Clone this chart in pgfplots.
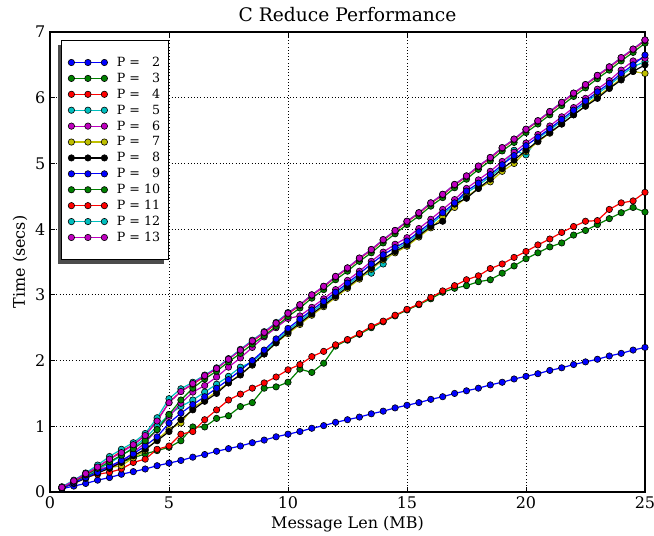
\documentclass[border=0pt]{standalone}
\usepackage{fontspec}
\setmainfont{DejaVu Serif}
\usepackage{pgfplots}
\usepackage{pgfplotstable}
\pgfplotsset{compat=1.18}
\usetikzlibrary{shadows}
\makeatletter
\tikzset{no preactions/.code={\let\tikz@preactions\pgfutil@empty}}
\makeatother

\definecolor{mb}{rgb}{0,0,1}
\definecolor{mg}{rgb}{0,0.5,0}
\definecolor{mr}{rgb}{1,0,0}
\definecolor{mc}{rgb}{0,0.75,0.75}
\definecolor{mm}{rgb}{0.75,0,0.75}
\definecolor{my}{rgb}{0.75,0.75,0}
\definecolor{mk}{rgb}{0,0,0}

\pgfplotstableread{
x    p2   p3   p4   p5   p6   p7   p8   p9   p10  p11  p12  p13
0.5  0.05 0.07 0.07 0.07 0.07 0.06 0.06 0.06 0.07 0.07 0.08 0.07
1.0  0.09 0.16 0.16 0.16 0.16 0.14 0.13 0.14 0.16 0.17 0.18 0.17
1.5  0.13 0.24 0.22 0.25 0.26 0.21 0.21 0.22 0.26 0.27 0.29 0.28
2.0  0.18 0.32 0.27 0.34 0.35 0.29 0.29 0.30 0.36 0.38 0.41 0.38
2.5  0.22 0.38 0.30 0.44 0.38 0.37 0.36 0.39 0.46 0.50 0.54 0.50
3.0  0.27 0.45 0.35 0.55 0.46 0.40 0.45 0.48 0.56 0.62 0.65 0.60
3.5  0.31 0.52 0.45 0.68 0.60 0.52 0.55 0.58 0.66 0.72 0.75 0.72
4.0  0.35 0.58 0.50 0.82 0.75 0.63 0.65 0.70 0.78 0.86 0.89 0.86
4.5  0.40 0.63 0.65 1.00 0.95 0.80 0.78 0.84 0.95 1.09 1.13 1.08
5.0  0.44 0.68 0.70 1.18 1.15 0.95 0.92 1.05 1.18 1.36 1.42 1.36
5.5  0.48 0.78 0.88 1.30 1.35 1.05 1.10 1.20 1.40 1.53 1.57 1.53
6.0  0.53 0.99 0.92 1.40 1.52 1.28 1.25 1.33 1.58 1.64 1.67 1.65
6.5  0.57 0.99 1.10 1.52 1.62 1.40 1.38 1.45 1.72 1.76 1.78 1.77
7.0  0.62 1.12 1.25 1.64 1.75 1.53 1.50 1.58 1.84 1.88 1.89 1.88
7.5  0.66 1.16 1.40 1.76 1.90 1.66 1.66 1.71 1.98 2.02 2.03 2.02
8.0  0.70 1.30 1.49 1.90 2.04 1.79 1.78 1.85 2.11 2.16 2.17 2.16
8.5  0.75 1.36 1.58 1.98 2.20 1.93 1.94 2.00 2.25 2.29 2.31 2.30
9.0  0.79 1.58 1.66 2.13 2.36 2.10 2.10 2.16 2.38 2.42 2.44 2.43
9.5  0.84 1.60 1.75 2.30 2.50 2.27 2.27 2.33 2.52 2.56 2.58 2.57
10.0 0.88 1.67 1.86 2.46 2.64 2.41 2.43 2.49 2.67 2.71 2.73 2.72
10.5 0.92 1.87 1.94 2.60 2.68 2.55 2.57 2.63 2.80 2.84 2.85 2.85
11.0 0.97 1.82 2.06 2.74 2.81 2.69 2.71 2.77 2.95 2.99 3.00 3.00
11.5 1.01 1.96 2.14 2.87 2.94 2.82 2.84 2.90 3.08 3.12 3.13 3.13
12.0 1.06 2.22 2.24 3.01 3.08 2.96 2.98 3.04 3.23 3.27 3.28 3.28
12.5 1.10 2.31 2.32 3.15 3.22 3.10 3.12 3.18 3.36 3.40 3.41 3.41
13.0 1.14 2.40 2.41 3.29 3.36 3.24 3.26 3.32 3.51 3.55 3.56 3.56
13.5 1.19 2.50 2.52 3.33 3.51 3.39 3.41 3.47 3.64 3.68 3.69 3.69
14.0 1.23 2.59 2.60 3.47 3.65 3.53 3.55 3.61 3.79 3.83 3.84 3.84
14.5 1.28 2.68 2.69 3.69 3.77 3.64 3.66 3.72 3.93 3.97 3.98 3.98
15.0 1.32 2.77 2.78 3.79 3.87 3.74 3.76 3.82 4.07 4.11 4.12 4.12
15.5 1.36 2.85 2.86 3.93 4.01 3.88 3.90 3.96 4.20 4.24 4.25 4.25
16.0 1.41 2.94 2.96 4.07 4.15 4.02 4.04 4.10 4.35 4.39 4.40 4.40
16.5 1.45 3.04 3.06 4.22 4.30 4.18 4.12 4.25 4.48 4.52 4.53 4.53
17.0 1.50 3.10 3.14 4.37 4.45 4.33 4.38 4.40 4.63 4.67 4.68 4.68
17.5 1.54 3.14 3.23 4.55 4.62 4.49 4.47 4.58 4.76 4.80 4.81 4.81
18.0 1.58 3.20 3.29 4.67 4.75 4.62 4.62 4.70 4.91 4.95 4.96 4.96
18.5 1.63 3.23 3.40 4.80 4.88 4.72 4.76 4.83 5.04 5.08 5.09 5.09
19.0 1.67 3.33 3.47 4.95 5.03 4.88 4.92 4.98 5.19 5.23 5.24 5.24
19.5 1.72 3.44 3.57 5.20 5.17 5.00 5.05 5.12 5.32 5.36 5.37 5.37
20.0 1.76 3.55 3.66 5.13 5.31 5.18 5.20 5.27 5.47 5.51 5.52 5.52
20.5 1.80 3.64 3.76 5.38 5.44 5.33 5.34 5.40 5.60 5.64 5.65 5.65
21.0 1.85 3.73 3.85 5.51 5.57 5.46 5.47 5.53 5.74 5.78 5.79 5.79
21.5 1.89 3.79 3.95 5.64 5.71 5.60 5.60 5.67 5.88 5.92 5.93 5.93
22.0 1.94 3.91 4.04 5.78 5.85 5.74 5.74 5.81 6.02 6.06 6.07 6.07
22.5 1.98 3.98 4.12 5.92 5.99 5.88 5.87 5.95 6.15 6.19 6.20 6.20
23.0 2.02 4.07 4.13 6.06 6.13 6.02 5.99 6.09 6.29 6.33 6.34 6.34
23.5 2.07 4.16 4.30 6.19 6.26 6.15 6.14 6.22 6.42 6.46 6.47 6.47
24.0 2.11 4.25 4.40 6.34 6.42 6.29 6.27 6.37 6.56 6.60 6.61 6.61
24.5 2.16 4.33 4.43 6.47 6.56 6.40 6.40 6.50 6.69 6.73 6.74 6.74
25.0 2.20 4.26 4.56 6.55 6.60 6.37 6.50 6.65 6.83 6.87 6.88 6.88
}\data

\pgfplotsset{
  ser/.style={color=#1, line width=0.9pt, mark=*, mark size=2.4pt,
    mark options={fill=#1, draw=black, line width=0.45pt}},
}

\begin{document}
\begin{tikzpicture}
\fill[white] (-37.5pt,-33pt) rectangle (453pt,369pt);
\useasboundingbox (-37.5pt,-33pt) rectangle (453pt,369pt);
\begin{axis}[
  scale only axis,
  width=446.25pt, height=345pt,
  xmin=0, xmax=25, ymin=0, ymax=7,
  xtick={0,5,10,15,20,25}, ytick={0,1,2,3,4,5,6,7},
  minor tick num=0,
  tick align=inside,
  major tick length=3.5pt,
  tick style={black, line width=0.6pt},
  axis line style={black, line width=0.8pt},
  grid=major,
  grid style={black, dotted, line width=0.6pt},
  /pgf/number format/assume math mode=true,
  tick label style={font=\fontsize{12}{14}\selectfont},
  title={C Reduce Performance},
  title style={font=\fontsize{14}{16}\selectfont, yshift=-2pt},
  xlabel={Message Len (MB)},
  ylabel={Time (secs)},
  label style={font=\fontsize{12}{14}\selectfont},
  xlabel style={at={(axis description cs:0.5,-0.0696)}, anchor=center},
  ylabel style={at={(axis description cs:-0.0504,0.5)}, anchor=center, rotate=0},
  legend cell align=left,
  legend image code/.code={
    \draw[no preactions, mark repeat=1, mark phase=1, #1] plot coordinates {(0pt,0pt) (12.4pt,0pt) (24.75pt,0pt)};
  },
  legend style={
    at={(0.0185,0.9826)}, anchor=north west,
    draw=black, line width=0.8pt, fill=white,
    inner xsep=5pt, inner ysep=10.5pt,
    column sep=6pt, row sep=0pt,
    font=\fontsize{9.5}{11}\selectfont,
    nodes={inner sep=1pt, text height=7.93pt, text depth=2pt, no preactions},
    drop shadow={shadow xshift=-3pt, shadow yshift=-3.5pt, fill=black!70, opacity=1},
  },
]
\addplot[ser=mb] table[x=x,y=p2] {\data};
\addlegendentry{P = \phantom{1}2}
\addplot[ser=mg] table[x=x,y=p3] {\data};
\addlegendentry{P = \phantom{1}3}
\addplot[ser=mr] table[x=x,y=p4] {\data};
\addlegendentry{P = \phantom{1}4}
\addplot[ser=mc] table[x=x,y=p5] {\data};
\addlegendentry{P = \phantom{1}5}
\addplot[ser=mm] table[x=x,y=p6] {\data};
\addlegendentry{P = \phantom{1}6}
\addplot[ser=my] table[x=x,y=p7] {\data};
\addlegendentry{P = \phantom{1}7}
\addplot[ser=mk] table[x=x,y=p8] {\data};
\addlegendentry{P = \phantom{1}8}
\addplot[ser=mb] table[x=x,y=p9] {\data};
\addlegendentry{P = \phantom{1}9}
\addplot[ser=mg] table[x=x,y=p10] {\data};
\addlegendentry{P = 10}
\addplot[ser=mr] table[x=x,y=p11] {\data};
\addlegendentry{P = 11}
\addplot[ser=mc] table[x=x,y=p12] {\data};
\addlegendentry{P = 12}
\addplot[ser=mm] table[x=x,y=p13] {\data};
\addlegendentry{P = 13}
\end{axis}
\end{tikzpicture}
\end{document}
